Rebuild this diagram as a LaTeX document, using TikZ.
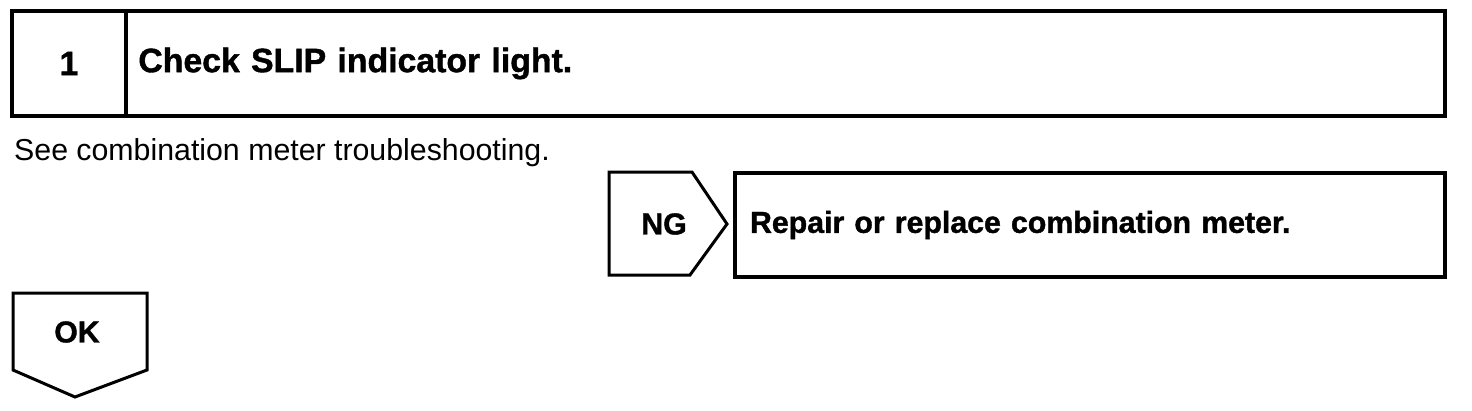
\documentclass[tikz,border=0pt]{standalone}
\usepackage{fontspec}
\setmainfont{Liberation Sans}[BoldFeatures={FakeBold=1.2}]
\begin{document}
\begin{tikzpicture}[x=1pt,y=-1pt,
  boxline/.style={draw=black,line width=3.5pt,line join=miter},
  tagline/.style={draw=black,line width=3pt,line join=miter},
  bigbold/.style={font=\fontsize{33.8}{40}\selectfont\bfseries},
  midbold/.style={font=\fontsize{30.3}{36}\selectfont\bfseries},
  plain/.style={font=\fontsize{30.3}{36}\selectfont}]
\useasboundingbox (0,0) rectangle (1472,410);
% step header
\node[boxline,minimum width=1433pt,minimum height=105pt,inner sep=0pt] (header) at (728.5,63.5) {};
\node[minimum width=114pt,minimum height=105pt,inner sep=0pt,bigbold] (num) at (69,63.5) {1};
\draw[boxline] (num.north east) -- (num.south east);
\node[minimum width=1319pt,minimum height=105pt,inner xsep=12pt,inner ysep=0pt,
  text width=1295pt,align=left,bigbold,anchor=west] (title) at (num.east) {Check SLIP indicator light.};
% note
\node[plain,anchor=base west,inner sep=0pt] (note) at (14,160) {See combination meter troubleshooting.};
% NG tag
\coordinate (ngA) at (609,172);
\coordinate (ngB) at (692,172);
\coordinate (ngC) at (727,224);
\coordinate (ngD) at (690,275);
\coordinate (ngE) at (609,275);
\draw[tagline] (ngA) -- (ngB) -- (ngC) -- (ngD) -- (ngE) -- cycle;
\node[midbold,inner sep=0pt] (ng) at (664,224) {NG};
% repair box
\node[boxline,minimum width=710pt,minimum height=104pt,inner xsep=15pt,inner ysep=0pt,
  text width=680pt,align=left,midbold] (repair) at (1090,225) {Repair or replace combination meter.};
% OK tag
\coordinate (okA) at (13,293);
\coordinate (okB) at (147,293);
\coordinate (okC) at (147,370);
\coordinate (okD) at (75,397);
\coordinate (okE) at (13,370);
\draw[tagline] (okA) -- (okB) -- (okC) -- (okD) -- (okE) -- cycle;
\node[midbold,inner sep=0pt] (ok) at (77,332) {OK};
\end{tikzpicture}
\end{document}
